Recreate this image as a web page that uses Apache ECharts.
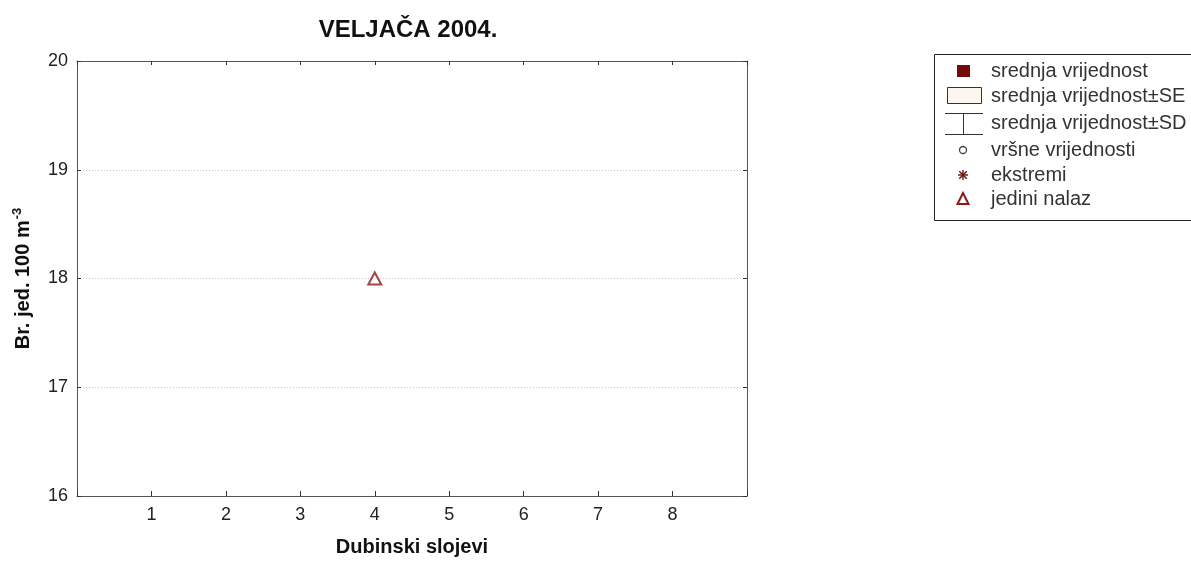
<!DOCTYPE html>
<html>
<head>
<meta charset="utf-8">
<script src="https://cdn.jsdelivr.net/npm/echarts@6/dist/echarts.min.js"></script>
<style>html,body{margin:0;padding:0;background:#fff;}#c{width:1191px;height:562px;}</style>
</head>
<body>
<div id="c"></div>
<script>
const titleText = 'VELJAČA 2004.';
const xAxisTitle = 'Dubinski slojevi';
const depthLayers = [1, 2, 3, 4, 5, 6, 7, 8];
const singleFindDepth = [4];
const singleFindValue = [18];
const yTicks = [16, 17, 18, 19, 20];
const legendLabels = ['srednja vrijednost', 'srednja vrijednost±SE', 'srednja vrijednost±SD', 'vršne vrijednosti', 'ekstremi', 'jedini nalaz'];

const chart = echarts.init(document.getElementById('c'));
const font = 'Liberation Sans, Arial, sans-serif';
const axisCol = '#555';
const red = '#8b1a1a';

const rowsY = [71, 96, 123, 150, 175, 199];
const lx = 963;
const g = [];
g.push({type:'text', x:408, y:30, style:{text:titleText, font:'bold 24px ' + font, fill:'#111', textAlign:'center', textVerticalAlign:'middle'}});
g.push({type:'rect', shape:{x:934.5, y:54.5, width:280, height:166}, style:{fill:'#fff', stroke:'#222', lineWidth:1}});
// icons
g.push({type:'rect', shape:{x:lx-6, y:rowsY[0]-6, width:13, height:12}, style:{fill:'#760909'}});
g.push({type:'rect', shape:{x:947.5, y:87.5, width:34, height:16}, style:{fill:'#fdf6ef', stroke:'#333', lineWidth:1}});
g.push({type:'line', shape:{x1:945, y1:113.5, x2:983, y2:113.5}, style:{stroke:'#333', lineWidth:1}});
g.push({type:'line', shape:{x1:963.5, y1:113.5, x2:963.5, y2:134.5}, style:{stroke:'#333', lineWidth:1}});
g.push({type:'line', shape:{x1:945, y1:134.5, x2:983, y2:134.5}, style:{stroke:'#333', lineWidth:1}});
g.push({type:'circle', shape:{cx:lx, cy:rowsY[3], r:3.5}, style:{fill:'#fff', stroke:'#444', lineWidth:1.3}});
const ay = rowsY[4], ar = 5;
[[-ar,0,ar,0],[0,-ar,0,ar],[-ar*0.75,-ar*0.75,ar*0.75,ar*0.75],[-ar*0.75,ar*0.75,ar*0.75,-ar*0.75]].forEach(function(s){
  g.push({type:'line', shape:{x1:lx+s[0], y1:ay+s[1], x2:lx+s[2], y2:ay+s[3]}, style:{stroke:'#6b1010', lineWidth:1.4}});
});
g.push({type:'polygon', shape:{points:[[lx, rowsY[5]-6],[lx+5.5, rowsY[5]+5],[lx-5.5, rowsY[5]+5]]}, style:{fill:'#fff', stroke:red, lineWidth:2}});
legendLabels.forEach(function(t, i){
  g.push({type:'text', x:991, y:rowsY[i], style:{text:t, font:'20px ' + font, fill:'#333', textVerticalAlign:'middle'}});
});

chart.setOption({
  backgroundColor:'#fff',
  animation:false,
  grid:{left:77, right:444, top:61, bottom:65},
  xAxis:[{
    type:'value', min:0, max:9, interval:1, position:'bottom',
    name:xAxisTitle, nameLocation:'middle', nameGap:41,
    nameTextStyle:{fontFamily:font, fontWeight:'bold', fontSize:20, color:'#111'},
    axisLine:{show:true, onZero:false, lineStyle:{color:axisCol, width:1}},
    axisTick:{show:true, inside:true, length:5, lineStyle:{color:'#333'}},
    axisLabel:{fontFamily:font, fontSize:18, color:'#222', margin:10,
      formatter:function(v){ return depthLayers.indexOf(v) >= 0 ? String(v) : ''; }},
    splitLine:{show:false}
  },{
    type:'value', min:0, max:9, interval:1, position:'top',
    axisLine:{show:true, onZero:false, lineStyle:{color:axisCol, width:1}},
    axisTick:{show:true, inside:true, length:4, lineStyle:{color:'#333'}},
    axisLabel:{show:false}, splitLine:{show:false}
  }],
  yAxis:[{
    type:'value', min:yTicks[0], max:yTicks[yTicks.length-1], interval:1, position:'left',
    name:'{a|Br. jed. 100 m}{s|-3}', nameLocation:'middle', nameGap:42, nameRotate:90,
    nameTextStyle:{rich:{
      a:{fontFamily:font, fontWeight:'bold', fontSize:20, color:'#111'},
      s:{fontFamily:font, fontWeight:'bold', fontSize:13, color:'#111', padding:[0,0,11,1]}
    }},
    axisLine:{show:true, onZero:false, lineStyle:{color:axisCol, width:1}},
    axisTick:{show:true, inside:true, length:4, lineStyle:{color:'#333'}},
    axisLabel:{fontFamily:font, fontSize:18, color:'#222', margin:9},
    splitLine:{show:true, lineStyle:{color:'#c8c8c8', type:[1,2], width:1}}
  },{
    type:'value', min:yTicks[0], max:yTicks[yTicks.length-1], interval:1, position:'right',
    axisLine:{show:true, onZero:false, lineStyle:{color:axisCol, width:1}},
    axisTick:{show:true, inside:true, length:4, lineStyle:{color:'#333'}},
    axisLabel:{show:false}, splitLine:{show:false}
  }],
  series:[{
    type:'scatter',
    data:singleFindDepth.map(function(d, i){ return [d, singleFindValue[i]]; }),
    symbol:'triangle', symbolSize:[13, 12],
    itemStyle:{color:'#fff', borderColor:red, borderWidth:2}
  }],
  graphic:g
});
</script>
</body>
</html>
